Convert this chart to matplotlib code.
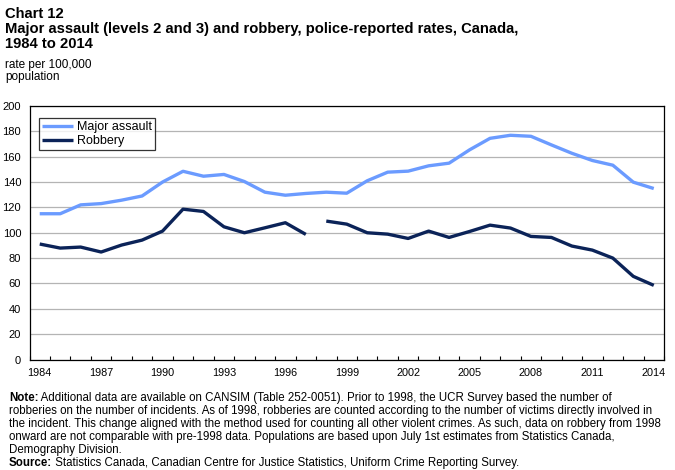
import numpy as np
import matplotlib
matplotlib.use("Agg")
import matplotlib.pyplot as plt
from matplotlib.ticker import FixedLocator

plt.rcParams['font.family'] = ['Liberation Sans', 'DejaVu Sans']

years = list(range(1984, 2015))
major_assault = [115, 115, 122, 123, 125.7, 129, 140, 148.5, 144.6, 146, 140.4, 132, 129.6, 131, 132,
                 131.2, 141, 147.8, 148.6, 152.8, 154.9, 165.4, 174.5, 176.9, 176.1, 169.3, 162.7, 157, 153.3, 139.9, 134.9]
robbery = [91.1, 87.9, 88.7, 84.8, 90.3, 94.2, 101.3, 118.6, 116.8, 104.7, 100, 103.9, 107.9, 98.7, 109.2,
           106.8, 100, 98.9, 95.5, 101.3, 96.3, 101, 106, 103.7, 97.1, 96.3, 89.5, 86.3, 80, 65.6, 58.5]
break_year = 1998
series_names = ["Major assault", "Robbery"]
xtick_labels = [str(y) for y in range(1984, 2015, 3)]
yticks = list(range(0, 201, 20))

W, H = 675, 470
fig = plt.figure(figsize=(W / 100, H / 100), dpi=100)

def fx(x):
    return x / W

def fy(y):
    return 1 - y / H

left, right, top, bottom = 29.5, 664, 106, 359.5
ax = fig.add_axes([fx(left), fy(bottom), fx(right - left), (bottom - top) / H])

c_ma = '#6B9BFF'
c_rob = '#0B2358'
x = np.arange(len(years))
ma = np.array(major_assault)
rb = np.array(robbery)
bi = years.index(break_year)
kw = dict(lw=2.4, solid_capstyle='butt', solid_joinstyle='round', zorder=3)
l1, = ax.plot(x, ma, color=c_ma, **kw)
l2, = ax.plot(x[:bi], rb[:bi], color=c_rob, **kw)
ax.plot(x[bi:], rb[bi:], color=c_rob, **kw)

ax.set_xlim(-0.5, len(years) - 0.5)
ax.set_ylim(0, 200)
ax.set_yticks(yticks)
ax.set_yticklabels([str(v) for v in yticks])
ax.yaxis.grid(True, color='#B4B4B4', lw=0.9)
ax.set_axisbelow(True)
ax.tick_params(axis='y', length=0, pad=6, labelsize=8)

lab_pos = [years.index(int(s)) for s in xtick_labels]
ax.set_xticks(lab_pos)
ax.set_xticklabels(xtick_labels)
ax.tick_params(axis='x', which='major', length=0, pad=6, labelsize=7.8)
ax.xaxis.set_minor_locator(FixedLocator(np.arange(-0.5, len(years) - 0.4, 1.0)))
ax.tick_params(axis='x', which='minor', direction='in', length=3, width=0.8, color='black')

for s in ax.spines.values():
    s.set_color('black')
    s.set_linewidth(0.9)

leg = ax.legend([l1, l2], series_names, loc='upper left',
                bbox_to_anchor=(fx(39), fy(118)), bbox_transform=fig.transFigure,
                fancybox=False, frameon=True, edgecolor='black', fontsize=9,
                handlelength=2.5, handletextpad=0.3, borderpad=0.25, labelspacing=0.15,
                borderaxespad=0)
leg.get_frame().set_linewidth(0.9)

# Titles
tfs = 10.6
fig.text(fx(5), fy(18), "Chart 12", fontsize=tfs, fontweight='bold', va='baseline')
fig.text(fx(5), fy(33), "Major assault (levels 2 and 3) and robbery, police-reported rates, Canada,",
         fontsize=tfs, fontweight='bold', va='baseline')
fig.text(fx(5), fy(48), "1984 to 2014", fontsize=tfs, fontweight='bold', va='baseline')
fig.text(fx(5), fy(68), "rate per 100,000", fontsize=8.5, va='baseline')
fig.text(fx(5), fy(80), "population", fontsize=8.5, va='baseline')

# Notes
note_lines = [
    ("Note:", " Additional data are available on CANSIM (Table 252-0051). Prior to 1998, the UCR Survey based the number of"),
    ("", "robberies on the number of incidents. As of 1998, robberies are counted according to the number of victims directly involved in"),
    ("", "the incident. This change aligned with the method used for counting all other violent crimes. As such, data on robbery from 1998"),
    ("", "onward are not comparable with pre-1998 data. Populations are based upon July 1st estimates from Statistics Canada,"),
    ("", "Demography Division."),
    ("Source:", " Statistics Canada, Canadian Centre for Justice Statistics, Uniform Crime Reporting Survey."),
]
renderer = fig.canvas.get_renderer()
nfs = 8.3
base = 401
for i, (b, t) in enumerate(note_lines):
    yb = base + i * 13
    xs = 9
    if b:
        tb = fig.text(fx(xs), fy(yb), b, fontsize=nfs, fontweight='bold', va='baseline')
        xs += tb.get_window_extent(renderer).width
    fig.text(fx(xs), fy(yb), t, fontsize=nfs, va='baseline')

fig.savefig("out.png", dpi=100)
